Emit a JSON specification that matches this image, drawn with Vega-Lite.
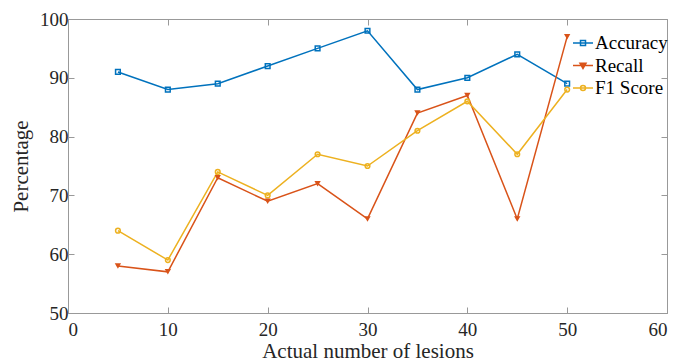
{
  "$schema": "https://vega.github.io/schema/vega-lite/v6.json",
  "width": 599,
  "height": 294,
  "autosize": {"type": "none"},
  "padding": {"left": 68, "top": 19, "right": 10, "bottom": 50},
  "background": "white",
  "config": {
    "font": "Liberation Serif",
    "view": {"stroke": "#999999", "strokeWidth": 1},
    "axis": {
      "grid": false,
      "domainColor": "#999999",
      "tickColor": "#999999",
      "labelColor": "#262626",
      "titleColor": "#262626",
      "labelFont": "Liberation Serif",
      "titleFont": "Liberation Serif",
      "labelFontSize": 19,
      "titleFontSize": 21,
      "titleFontWeight": "normal",
      "tickSize": -6
    },
    "legend": {
      "labelFont": "Liberation Serif"
    }
  },
  "datasets": {
    "d": [
      {"n": 5, "metric": "Accuracy", "value": 91},
      {"n": 10, "metric": "Accuracy", "value": 88},
      {"n": 15, "metric": "Accuracy", "value": 89},
      {"n": 20, "metric": "Accuracy", "value": 92},
      {"n": 25, "metric": "Accuracy", "value": 95},
      {"n": 30, "metric": "Accuracy", "value": 98},
      {"n": 35, "metric": "Accuracy", "value": 88},
      {"n": 40, "metric": "Accuracy", "value": 90},
      {"n": 45, "metric": "Accuracy", "value": 94},
      {"n": 50, "metric": "Accuracy", "value": 89},
      {"n": 5, "metric": "Recall", "value": 58},
      {"n": 10, "metric": "Recall", "value": 57},
      {"n": 15, "metric": "Recall", "value": 73},
      {"n": 20, "metric": "Recall", "value": 69},
      {"n": 25, "metric": "Recall", "value": 72},
      {"n": 30, "metric": "Recall", "value": 66},
      {"n": 35, "metric": "Recall", "value": 84},
      {"n": 40, "metric": "Recall", "value": 87},
      {"n": 45, "metric": "Recall", "value": 66},
      {"n": 50, "metric": "Recall", "value": 97},
      {"n": 5, "metric": "F1 Score", "value": 64},
      {"n": 10, "metric": "F1 Score", "value": 59},
      {"n": 15, "metric": "F1 Score", "value": 74},
      {"n": 20, "metric": "F1 Score", "value": 70},
      {"n": 25, "metric": "F1 Score", "value": 77},
      {"n": 30, "metric": "F1 Score", "value": 75},
      {"n": 35, "metric": "F1 Score", "value": 81},
      {"n": 40, "metric": "F1 Score", "value": 86},
      {"n": 45, "metric": "F1 Score", "value": 77},
      {"n": 50, "metric": "F1 Score", "value": 88}
    ]
  },
  "data": {"name": "d"},
  "layer": [
    {
      "mark": {"type": "point", "opacity": 0, "filled": false},
      "encoding": {
        "x": {"field": "n", "type": "quantitative", "scale": {"domain": [0, 60]},
              "axis": {"orient": "top", "values": [0, 10, 20, 30, 40, 50, 60], "labels": false, "title": null, "domain": false}},
        "y": {"field": "value", "type": "quantitative", "scale": {"domain": [50, 100]},
              "axis": {"orient": "right", "values": [50, 60, 70, 80, 90, 100], "labels": false, "title": null, "domain": false}},
        "color": {"field": "metric", "type": "nominal",
                  "scale": {"domain": ["Accuracy", "Recall", "F1 Score"], "range": ["#0072BD", "#D95319", "#EDB120"]},
                  "legend": {"title": null, "orient": "none", "legendX": 504, "legendY": 13,
                             "labelFontSize": 19, "labelColor": "#000000", "symbolOpacity": 1,
                             "symbolSize": 400, "symbolStrokeWidth": 1.5, "rowPadding": 1.5, "labelOffset": 1}},
        "shape": {"field": "metric", "type": "nominal",
                  "scale": {"domain": ["Accuracy", "Recall", "F1 Score"],
                            "range": ["M-1,0H1M-0.25,-0.25H0.25V0.25H-0.25Z",
                                      "M-1,0H1M-0.3,-0.22H0.3L0,0.3ZM-0.15,-0.12H0.15L0,0.15Z",
                                      "M-1,0H1M-0.25,0A0.25,0.25 0 1,0 0.25,0A0.25,0.25 0 1,0 -0.25,0Z"]},
                  "legend": {"title": null, "orient": "none", "legendX": 504, "legendY": 13,
                             "labelFontSize": 19, "labelColor": "#000000", "symbolOpacity": 1,
                             "symbolSize": 400, "symbolStrokeWidth": 1.5, "rowPadding": 1.5, "labelOffset": 1}}
      }
    },
    {
      "mark": {"type": "line", "strokeWidth": 1.5},
      "encoding": {
        "x": {"field": "n", "type": "quantitative",
              "axis": {"values": [0, 10, 20, 30, 40, 50, 60], "title": "Actual number of lesions", "labelPadding": 13, "titlePadding": 1}},
        "y": {"field": "value", "type": "quantitative",
              "axis": {"values": [50, 60, 70, 80, 90, 100], "title": "Percentage", "labelPadding": 6, "titlePadding": 8}},
        "color": {"field": "metric", "type": "nominal",
                  "scale": {"domain": ["Accuracy", "Recall", "F1 Score"], "range": ["#0072BD", "#D95319", "#EDB120"]},
                  "legend": null}
      }
    },
    {
      "transform": [{"filter": "datum.metric != 'Recall'"}],
      "mark": {"type": "point", "filled": false, "strokeWidth": 1.5, "size": 22, "opacity": 1},
      "encoding": {
        "x": {"field": "n", "type": "quantitative", "axis": null},
        "y": {"field": "value", "type": "quantitative", "axis": null},
        "color": {"field": "metric", "type": "nominal",
                  "scale": {"domain": ["Accuracy", "Recall", "F1 Score"], "range": ["#0072BD", "#D95319", "#EDB120"]},
                  "legend": null},
        "shape": {"field": "metric", "type": "nominal",
                  "scale": {"domain": ["Accuracy", "Recall", "F1 Score"], "range": ["square", "triangle-down", "circle"]},
                  "legend": null}
      }
    },
    {
      "transform": [{"filter": "datum.metric == 'Recall'"}],
      "mark": {"type": "point", "filled": true, "size": 40, "opacity": 1, "shape": "triangle-down"},
      "encoding": {
        "x": {"field": "n", "type": "quantitative", "axis": null},
        "y": {"field": "value", "type": "quantitative", "axis": null},
        "color": {"field": "metric", "type": "nominal",
                  "scale": {"domain": ["Accuracy", "Recall", "F1 Score"], "range": ["#0072BD", "#D95319", "#EDB120"]},
                  "legend": null}
      }
    }
  ],
  "resolve": {"axis": {"x": "independent", "y": "independent"}, "scale": {"shape": "independent", "color": "independent"}}
}
